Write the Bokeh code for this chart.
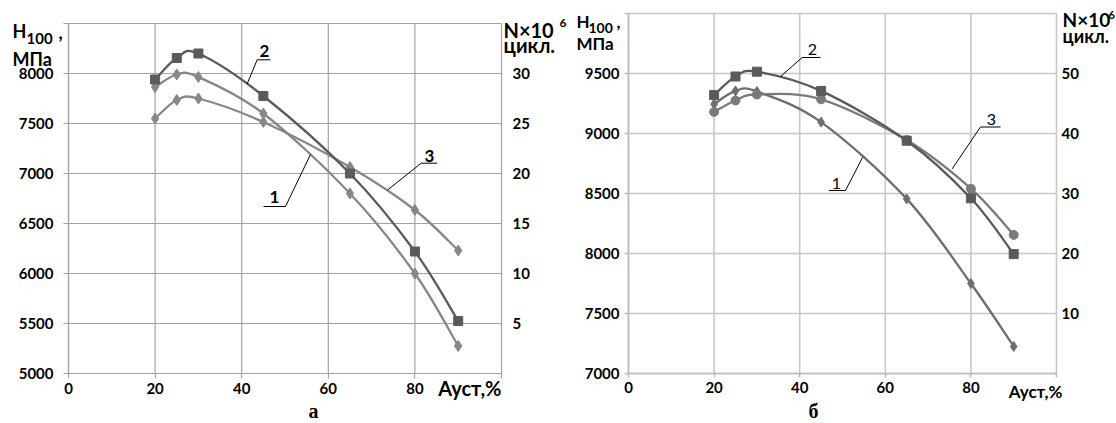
from bokeh.plotting import figure
from bokeh.models import Range1d, LinearAxis, Label, FixedTicker, ColumnDataSource
from bokeh.layouts import row
from bokeh.embed import file_html
from bokeh.resources import INLINE

# ---------------- data ----------------
austenite = [20, 25, 30, 45, 65, 80, 90]          # Ауст, %

# panel "а"  (values expressed on the left axis scale, MPa)
a_curve1 = [7865, 7990, 7965, 7600, 6800, 6000, 5275]
a_curve2 = [7940, 8155, 8200, 7775, 7000, 6220, 5525]
a_curve3 = [7550, 7735, 7750, 7515, 7065, 6635, 6230]

# panel "б"
b_curve1 = [9245, 9355, 9350, 9095, 8455, 7750, 7225]
b_curve2 = [9320, 9475, 9515, 9355, 8940, 8460, 7995]
b_curve3 = [9180, 9275, 9325, 9285, 8945, 8540, 8155]

x_ticks = [0, 20, 40, 60, 80, 100]
a_left_ticks = [5000, 5500, 6000, 6500, 7000, 7500, 8000, 8500]
a_right_ticks = [0, 5, 10, 15, 20, 25, 30, 35]
b_left_ticks = [7000, 7500, 8000, 8500, 9000, 9500, 10000]
b_right_ticks = [0, 10, 20, 30, 40, 50, 60]

FONT = "Lato"
H = 423


def smooth_segments(xs, ys):
    """Bezier control points (Catmull-Rom style, as in smoothed spreadsheet lines)."""
    n = len(xs)
    d = dict(x0=[], y0=[], x1=[], y1=[], cx0=[], cy0=[], cx1=[], cy1=[])
    for i in range(n - 1):
        ip = max(i - 1, 0)
        inx = min(i + 2, n - 1)
        d["x0"].append(xs[i]); d["y0"].append(ys[i])
        d["x1"].append(xs[i + 1]); d["y1"].append(ys[i + 1])
        d["cx0"].append(xs[i] + (xs[i + 1] - xs[ip]) / 6.0)
        d["cy0"].append(ys[i] + (ys[i + 1] - ys[ip]) / 6.0)
        d["cx1"].append(xs[i + 1] - (xs[inx] - xs[i]) / 6.0)
        d["cy1"].append(ys[i + 1] - (ys[inx] - ys[i]) / 6.0)
    return ColumnDataSource(d)


def style_axis(ax, color, width, tick_out, standoff):
    ax.axis_line_color = color
    ax.axis_line_width = width
    ax.major_tick_line_color = color
    ax.major_tick_line_width = width
    ax.major_tick_in = 0
    ax.major_tick_out = tick_out
    ax.minor_tick_line_color = None
    ax.major_label_standoff = standoff
    ax.major_label_text_font = FONT
    ax.major_label_text_font_style = "bold"
    ax.major_label_text_font_size = "15px"
    ax.major_label_text_color = "black"


def make_panel(fig_w, win_x, left, fwidth, top, fheight, yr, ly_ticks, ry_ticks, ry_end,
               grid_color, axis_color, grid_w, lstand, rstand, tick_out):
    # the frame fills the whole figure; axes sit at fixed data locations
    right = fig_w - left - fwidth
    bottom = H - top - fheight
    y0, y1 = yr
    ppu = fheight / (y1 - y0)
    xr = Range1d(-left / fwidth * 100.0, 100.0 + right / fwidth * 100.0)
    yrng = Range1d(y0 - bottom / ppu, y1 + top / ppu)
    p = figure(width=fig_w, height=H, x_range=xr, y_range=yrng,
               x_axis_type=None, y_axis_type=None,
               output_backend="svg", toolbar_location=None, title=None, min_border=0)
    p.outline_line_color = None
    p.background_fill_color = "white"
    p.border_fill_color = "white"

    # grid lines from the tick lists
    p.segment(x0=x_ticks, y0=[y0] * len(x_ticks), x1=x_ticks, y1=[y1] * len(x_ticks),
              line_color=grid_color, line_width=grid_w)
    p.segment(x0=[0] * len(ly_ticks), y0=ly_ticks, x1=[100] * len(ly_ticks), y1=ly_ticks,
              line_color=grid_color, line_width=grid_w)

    bx = LinearAxis(fixed_location=y0, bounds=(0, 100), ticker=FixedTicker(ticks=x_ticks),
                    major_label_overrides={100: ""})
    style_axis(bx, axis_color, grid_w, tick_out, 4)
    p.add_layout(bx, "below")

    ly = LinearAxis(fixed_location=0, bounds=(y0, y1), ticker=FixedTicker(ticks=ly_ticks),
                    major_label_overrides={ly_ticks[-1]: ""})
    style_axis(ly, axis_color, grid_w, tick_out, lstand)
    p.add_layout(ly, "left")

    nppu = fheight / ry_end
    p.extra_y_ranges = {"n": Range1d(-bottom / nppu, ry_end + top / nppu)}
    ry = LinearAxis(y_range_name="n", fixed_location=100, bounds=(0, ry_end),
                    ticker=FixedTicker(ticks=ry_ticks),
                    major_label_overrides={ry_ticks[0]: "", ry_ticks[-1]: ""})
    style_axis(ry, None, grid_w, 0, rstand)
    ry.major_tick_line_color = None
    p.add_layout(ry, "right")

    fl = win_x + left

    def cx(px):
        return (px - fl) / fwidth * 100.0

    def cy(py):
        return y0 + (top + fheight - py) / ppu

    return p, cx, cy


def add_curve(p, ys, color, marker, size):
    p.bezier(x0="x0", y0="y0", x1="x1", y1="y1", cx0="cx0", cy0="cy0", cx1="cx1", cy1="cy1",
             source=smooth_segments(austenite, ys), line_color=color, line_width=2.3)
    p.scatter(austenite, ys, marker=marker, size=size, fill_color=color, line_color=color)


def lab(p, cx, cy, px, base, text, size, align="left", font=FONT, style="bold"):
    mid = base - 0.36 * size
    p.add_layout(Label(x=cx(px), y=cy(mid), text=text, text_font=font, text_font_style=style,
                       text_font_size=f"{size}px", text_align=align,
                       text_baseline="middle", text_color="black"))


def leader(p, cx, cy, u0, u1, uy, end):
    p.line([cx(u1), cx(u0), cx(end[0])], [cy(uy), cy(uy), cy(end[1])],
           line_color="black", line_width=1)


# ---------------- panel а ----------------
pa, ax_, ay_ = make_panel(572, 0, 68, 433, 23, 350, (5000, 8500), a_left_ticks, a_right_ticks, 35,
                          "#a3a3a3", "#a3a3a3", 1.2, 10, 11, 5)
add_curve(pa, a_curve3, "#878787", "diamond", 11)
add_curve(pa, a_curve1, "#878787", "diamond", 11)
add_curve(pa, a_curve2, "#5a5a5a", "square", 9)

lab(pa, ax_, ay_, 12, 37, "H", 18)
lab(pa, ax_, ay_, 26, 43, "100", 15)
lab(pa, ax_, ay_, 58, 38, ",", 18)
lab(pa, ax_, ay_, 12, 64.5, "МПа", 18)
lab(pa, ax_, ay_, 503, 36.7, "N×10", 20)
lab(pa, ax_, ay_, 559, 27, "6", 12)
lab(pa, ax_, ay_, 503, 51.5, "цикл.", 20)
lab(pa, ax_, ay_, 501, 395, "Ауст,%", 20, align="right")
lab(pa, ax_, ay_, 313, 418, "а", 20, align="center", font="Liberation Serif")
lab(pa, ax_, ay_, 264, 57, "2", 17, align="center")
lab(pa, ax_, ay_, 274, 203, "1", 17, align="center")
lab(pa, ax_, ay_, 429, 161.5, "3", 17, align="center")
leader(pa, ax_, ay_, 256.7, 270, 59.3, (246.7, 83.3))
leader(pa, ax_, ay_, 285, 263, 206, (310, 154))
leader(pa, ax_, ay_, 420.7, 436.7, 162.7, (387.3, 189.3))

# ---------------- panel б ----------------
pb, bx_, by_ = make_panel(544, 572, 56, 428, 13, 360, (7000, 10000), b_left_ticks, b_right_ticks, 60,
                          "#c8c8c8", "#bdbdbd", 1.6, 5, 5, 4)
add_curve(pb, b_curve1, "#6e6e6e", "diamond", 10)
add_curve(pb, b_curve3, "#7a7a7a", "circle", 9)
add_curve(pb, b_curve2, "#5a5a5a", "square", 9)

lab(pb, bx_, by_, 576, 27, "H", 17)
lab(pb, bx_, by_, 588, 33, "100", 14)
lab(pb, bx_, by_, 616, 28, ",", 17)
lab(pb, bx_, by_, 576, 49, "МПа", 17)
lab(pb, bx_, by_, 1062, 26, "N×10", 19)
lab(pb, bx_, by_, 1108, 18, "6", 11)
lab(pb, bx_, by_, 1062, 42, "цикл.", 18)
lab(pb, bx_, by_, 1062, 397, "Ауст,%", 17, align="right")
lab(pb, bx_, by_, 813, 418, "б", 20, align="center", font="Liberation Serif")
lab(pb, bx_, by_, 812, 55, "2", 16, align="center", style="normal")
lab(pb, bx_, by_, 836, 189, "1", 16, align="center", style="normal")
lab(pb, bx_, by_, 991, 125, "3", 16, align="center", style="normal")
leader(pb, bx_, by_, 801.7, 820, 57, (780, 76))
leader(pb, bx_, by_, 845, 828.3, 190, (862, 157))
leader(pb, bx_, by_, 980, 1000, 126.5, (951.7, 168.3))

layout = row(pa, pb, spacing=0)
open("out.html", "w").write(file_html(layout, INLINE))
